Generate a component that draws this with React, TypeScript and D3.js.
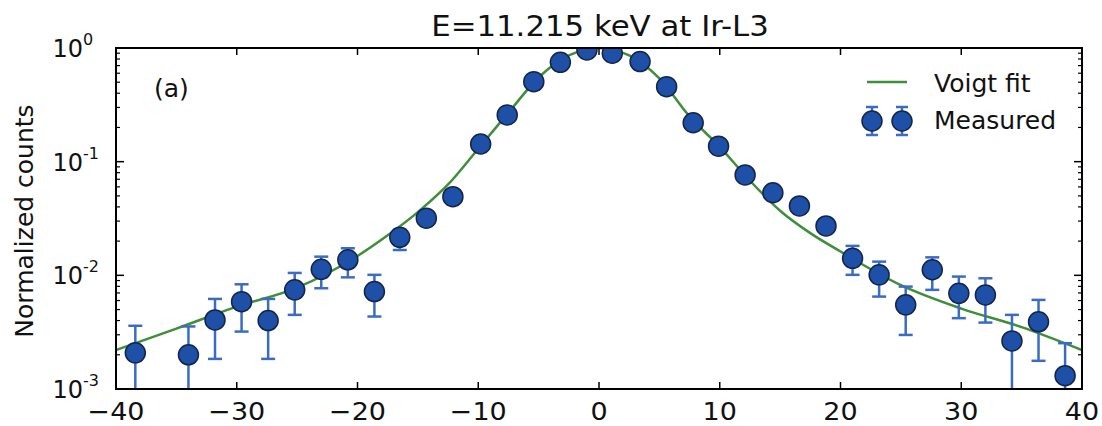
import React from "react";
import * as d3 from "d3";

const TITLE = "E=11.215 keV at Ir-L3";
const Y_LABEL = "Normalized counts";
const PANEL = "(a)";
const LEGEND_FIT = "Voigt fit";
const LEGEND_MEAS = "Measured";

const xTicks = [-40, -30, -20, -10, 0, 10, 20, 30, 40];
const yDecades = [-3, -2, -1, 0];

const measX = [-38.4, -34.0, -31.8, -29.6, -27.4, -25.2, -23.0, -20.8, -18.6, -16.5, -14.3, -12.1, -9.8, -7.6, -5.4, -3.2, -1.0, 1.1, 3.4, 5.6, 7.8, 9.9, 12.1, 14.4, 16.6, 18.8, 21.0, 23.2, 25.4, 27.6, 29.8, 32.0, 34.2, 36.4, 38.6];
const measY = [0.00208, 0.0020, 0.00405, 0.00587, 0.0040, 0.00745, 0.0113, 0.0137, 0.0072, 0.0216, 0.0318, 0.0492, 0.143, 0.258, 0.506, 0.748, 0.96, 0.90, 0.76, 0.457, 0.22, 0.137, 0.0764, 0.0533, 0.0408, 0.0272, 0.0141, 0.0101, 0.0055, 0.0112, 0.00695, 0.00673, 0.00265, 0.0039, 0.00131];
const errHi: (number | null)[] = [0.0036, 0.00355, 0.0062, 0.00834, 0.0062, 0.0105, 0.0146, 0.0173, 0.0101, 0.0251, null, null, null, null, null, null, null, null, null, null, null, null, null, null, null, null, 0.01816, 0.0132, 0.00796, 0.0144, 0.00975, 0.00942, 0.00449, 0.00608, 0.00253];
const errLo: (number | null)[] = [0.0003, 0.0003, 0.00184, 0.0032, 0.00184, 0.00449, 0.0077, 0.0096, 0.00434, 0.0167, null, null, null, null, null, null, null, null, null, null, null, null, null, null, null, null, 0.0101, 0.0065, 0.00299, 0.00745, 0.0042, 0.00384, 0.0003, 0.00177, 0.0003];

const fitX = [-40, -35, -30, -25, -20, -17.5, -15, -12.5, -10, -7.5, -5, -2.5, 0, 2.5, 5, 7.5, 10, 12.5, 15, 17.5, 20, 25, 30, 35, 40];
const fitY = [0.0022, 0.0034, 0.0053, 0.0078, 0.0148, 0.0225, 0.036, 0.063, 0.13, 0.27, 0.55, 0.86, 1.0, 0.86, 0.54, 0.25, 0.135, 0.068, 0.037, 0.0235, 0.0162, 0.0082, 0.0051, 0.0035, 0.0022];

const W = 1102;
const H = 426;
const L = 116, R = 1082, T = 48, B = 389;
const FONT = "'DejaVu Sans', sans-serif";
const MARK_FILL = "#1d50a6";
const MARK_STROKE = "#14254a";
const ERR = "#3a6cc4";
const FIT = "#3f8f3a";

function HText(props: { x: number; y: number; size: number; sx?: number; anchor?: string; children: React.ReactNode }) {
  const { x, y, size, sx = 1, anchor = "start", children } = props;
  return (
    <text transform={`translate(${x},${y}) scale(${sx},1)`} fontSize={size} textAnchor={anchor} fill="#111">
      {children}
    </text>
  );
}

export default function App() {
  const x = d3.scaleLinear().domain([-40, 40]).range([L, R]);
  const y = d3.scaleLog().domain([1e-3, 1]).range([B, T]);
  const line = d3
    .line<number>()
    .x((_, i) => x(fitX[i]))
    .y((d) => y(d))
    .curve(d3.curveMonotoneX);

  const minorTicks: number[] = [];
  for (let e = -3; e < 0; e++) {
    for (let m = 2; m <= 9; m++) minorTicks.push(m * Math.pow(10, e));
  }

  return (
    <svg width={W} height={H} style={{ position: "absolute", left: 0, top: 0, background: "#fff" }} fontFamily={FONT}>
      <defs>
        <clipPath id="plot">
          <rect x={L} y={T} width={R - L} height={B - T} />
        </clipPath>
      </defs>
      <HText x={600} y={36} size={28} sx={1.1} anchor="middle">{TITLE}</HText>
      <text transform={`translate(33,221) rotate(-90)`} fontSize={25} textAnchor="middle" fill="#111">{Y_LABEL}</text>

      <g clipPath="url(#plot)">
        <path d={line(fitY) || ""} fill="none" stroke={FIT} strokeWidth={2.5} />
        {measX.map((xv, i) => {
          const hi = errHi[i];
          const lo = errLo[i];
          if (hi == null || lo == null) return null;
          const cx = x(xv);
          return (
            <g key={"e" + i} stroke={ERR} strokeWidth={2.5}>
              <line x1={cx} x2={cx} y1={y(hi)} y2={y(lo)} />
              <line x1={cx - 7} x2={cx + 7} y1={y(hi)} y2={y(hi)} />
              <line x1={cx - 7} x2={cx + 7} y1={y(lo)} y2={y(lo)} />
            </g>
          );
        })}
        {measX.map((xv, i) => (
          <circle key={"m" + i} cx={x(xv)} cy={y(measY[i])} r={10} fill={MARK_FILL} stroke={MARK_STROKE} strokeWidth={1.5} />
        ))}
      </g>

      <rect x={L} y={T} width={R - L} height={B - T} fill="none" stroke="#000" strokeWidth={2} />

      {xTicks.map((t) => (
        <g key={"xt" + t}>
          <line x1={x(t)} x2={x(t)} y1={B} y2={B - 7} stroke="#000" strokeWidth={1.5} />
          <line x1={x(t)} x2={x(t)} y1={T} y2={T + 7} stroke="#000" strokeWidth={1.5} />
          <HText x={x(t)} y={420} size={25} sx={1.08} anchor="middle">
            {t < 0 ? "\u2212" + Math.abs(t) : String(t)}
          </HText>
        </g>
      ))}

      {yDecades.map((e) => {
        const yy = y(Math.pow(10, e));
        return (
          <g key={"yt" + e}>
            <line x1={L} x2={L + 8} y1={yy} y2={yy} stroke="#000" strokeWidth={1.5} />
            <line x1={R} x2={R - 8} y1={yy} y2={yy} stroke="#000" strokeWidth={1.5} />
            <text x={83} y={yy + 9} fontSize={24} textAnchor="end" fill="#111">10</text>
            <text x={83} y={yy - 3} fontSize={16} textAnchor="start" fill="#111">{e < 0 ? "-" + Math.abs(e) : String(e)}</text>
          </g>
        );
      })}
      {minorTicks.map((v, i) => (
        <g key={"mt" + i}>
          <line x1={L} x2={L + 4} y1={y(v)} y2={y(v)} stroke="#000" strokeWidth={1.2} />
          <line x1={R} x2={R - 4} y1={y(v)} y2={y(v)} stroke="#000" strokeWidth={1.2} />
        </g>
      ))}

      <HText x={154} y={97} size={25}>{PANEL}</HText>

      <line x1={867} x2={907} y1={82} y2={82} stroke={FIT} strokeWidth={2.5} />
      <HText x={934} y={92} size={25}>{LEGEND_FIT}</HText>
      {[872, 902].map((lx) => (
        <g key={"lg" + lx}>
          <g stroke={ERR} strokeWidth={2.5}>
            <line x1={lx} x2={lx} y1={107} y2={135} />
            <line x1={lx - 6} x2={lx + 6} y1={107} y2={107} />
            <line x1={lx - 6} x2={lx + 6} y1={135} y2={135} />
          </g>
          <circle cx={lx} cy={121} r={10} fill={MARK_FILL} stroke={MARK_STROKE} strokeWidth={1.5} />
        </g>
      ))}
      <HText x={934} y={129} size={25}>{LEGEND_MEAS}</HText>
    </svg>
  );
}
